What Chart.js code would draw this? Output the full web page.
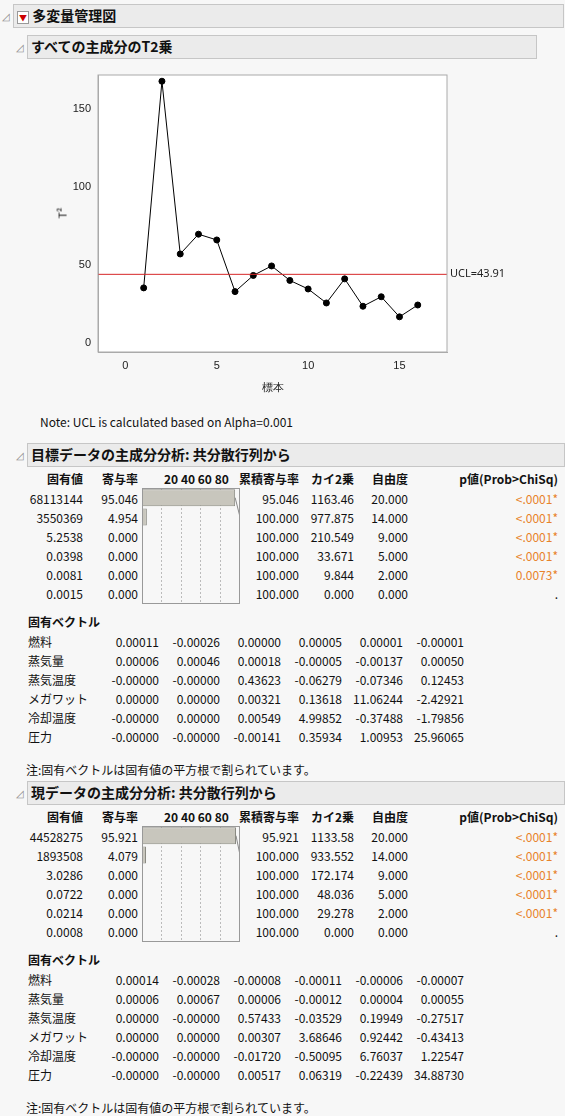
<!DOCTYPE html>
<html><head><meta charset="utf-8">
<script src="https://cdn.jsdelivr.net/npm/chart.js@4"></script>
<style>
body{margin:0;background:#f7f7f7;font-family:"Noto Sans CJK JP","Noto Sans",sans-serif;font-size:12px;color:#111;width:565px;height:1116px;position:relative;overflow:hidden}
.a{position:absolute;white-space:nowrap}
.hdr{position:absolute;background:#ebebeb;border:1px solid #c6c6c6;font-weight:bold;font-size:14px;line-height:22px;padding-left:3px}
.tri{position:absolute;color:#888;font-size:10px}
.r{text-align:right}
canvas{display:block}
</style></head><body>
<script>
const samples = [1,2,3,4,5,6,7,8,9,10,11,12,13,14,15,16];
const t2 = [35.2,168,57,69.7,66,32.8,43.2,49.3,40,34.5,25.5,41,23.4,29.5,16.6,24.2];
const ucl = 43.91;

const pcaHeaders = ['固有値','寄与率','累積寄与率','カイ2乗','自由度','p値(Prob>ChiSq)'];
const vars = ['燃料','蒸気量','蒸気温度','メガワット','冷却温度','圧力'];

const eig1 = ['68113144','3550369','5.2538','0.0398','0.0081','0.0015'];
const pct1 = [95.046,4.954,0,0,0,0];
const cum1 = [95.046,100,100,100,100,100];
const chi1 = ['1163.46','977.875','210.549','33.671','9.844','0.000'];
const df1 = ['20.000','14.000','9.000','5.000','2.000','0.000'];
const p1 = ['<.0001*','<.0001*','<.0001*','<.0001*','0.0073*','.'];
const vec1 = [
 ['0.00011','-0.00026','0.00000','0.00005','0.00001','-0.00001'],
 ['0.00006','0.00046','0.00018','-0.00005','-0.00137','0.00050'],
 ['-0.00000','-0.00000','0.43623','-0.06279','-0.07346','0.12453'],
 ['0.00000','0.00000','0.00321','0.13618','11.06244','-2.42921'],
 ['-0.00000','0.00000','0.00549','4.99852','-0.37488','-1.79856'],
 ['-0.00000','-0.00000','-0.00141','0.35934','1.00953','25.96065']];

const eig2 = ['44528275','1893508','3.0286','0.0722','0.0214','0.0008'];
const pct2 = [95.921,4.079,0,0,0,0];
const cum2 = [95.921,100,100,100,100,100];
const chi2 = ['1133.58','933.552','172.174','48.036','29.278','0.000'];
const df2 = ['20.000','14.000','9.000','5.000','2.000','0.000'];
const p2 = ['<.0001*','<.0001*','<.0001*','<.0001*','<.0001*','.'];
const vec2 = [
 ['0.00014','-0.00028','-0.00008','-0.00011','-0.00006','-0.00007'],
 ['0.00006','0.00067','0.00006','-0.00012','0.00004','0.00055'],
 ['0.00000','-0.00000','0.57433','-0.03529','0.19949','-0.27517'],
 ['0.00000','0.00000','0.00307','3.68646','0.92442','-0.43413'],
 ['-0.00000','-0.00000','-0.01720','-0.50095','6.76037','1.22547'],
 ['-0.00000','-0.00000','0.00517','0.06319','-0.22439','34.88730']];

function el(html, x, y, cls, style){
  const d=document.createElement('div'); d.className=cls||'a'; d.innerHTML=html;
  d.style.left=x+'px'; d.style.top=y+'px'; if(style) d.style.cssText+=style;
  document.body.appendChild(d); return d;
}
function rt(txt,right,y,style){ // right-aligned text
  return el(txt,right-200,y,'a r','width:200px;'+(style||''));
}

// headers
el('','13','4','hdr','width:546px;height:22px');
el('<span style="color:#c00;border:1px solid #999;background:#fff;font-size:8px;padding:0 1px">▼</span> 多変量管理図',14,4,'hdr','width:520px;height:22px;border:none;background:transparent');
el('◿',2,8,'tri');
el('','27','35','hdr','width:505px;height:22px');
el('すべての主成分のT2乗',28,35,'hdr','width:500px;border:none;background:transparent');
el('◿',16,39,'tri');

// T2 chart
const cv=document.createElement('canvas'); cv.width=480; cv.height=330;
const wrap=el('',40,65,'a','width:480px;height:330px'); wrap.appendChild(cv);
el('T²',56,205,'a','transform:rotate(-90deg);font-size:11px');
el('Note: UCL is calculated based on Alpha=0.001',40,413,'a');

new Chart(cv,{type:'line',
 data:{datasets:[{data:samples.map((s,i)=>({x:s,y:t2[i]})),borderColor:'#000',borderWidth:1,
   pointRadius:3,pointBackgroundColor:'#000',pointBorderColor:'#000',tension:0}]},
 options:{responsive:false,animation:false,
  layout:{padding:{top:10,right:73}},
  plugins:{legend:{display:false},tooltip:{enabled:false}},
  scales:{
   x:{type:'linear',min:-1.5,max:17.6,
      afterBuildTicks:s=>{s.ticks=[0,2.5,5,7.5,10,12.5,15,17.5].map(v=>({value:v}))},
      ticks:{color:'#222',font:{size:11},autoSkip:false,maxRotation:0,callback:v=>v%5===0?v:''},
      grid:{display:false,drawTicks:true,tickLength:4,tickColor:'#888'},
      border:{color:'#aaa'},
      title:{display:true,text:'標本',color:'#222',font:{size:11},padding:0},
      afterFit:s=>{s.height=43}},
   y:{min:-6,max:172,
      afterBuildTicks:s=>{s.ticks=[0,25,50,75,100,125,150].map(v=>({value:v}))},
      ticks:{color:'#222',font:{size:11},autoSkip:false,callback:v=>v%50===0?v:''},
      grid:{display:false,drawTicks:true,tickLength:4,tickColor:'#888'},
      border:{color:'#aaa'},
      afterFit:s=>{s.width=58}}
  }},
 plugins:[{id:'ucl',beforeDraw(c){const a=c.chartArea,x=c.ctx;x.fillStyle='#fff';x.fillRect(a.left,a.top,a.width,a.height);},
  afterDatasetsDraw(c){const a=c.chartArea,x=c.ctx,y=c.scales.y.getPixelForValue(ucl);
   x.save();x.strokeStyle='#d62728';x.lineWidth=1;x.beginPath();x.moveTo(a.left,y);x.lineTo(a.right,y);x.stroke();
   x.strokeStyle='#aaa';x.strokeRect(a.left,a.top,a.width,a.height);
   x.fillStyle='#222';x.font='11px "Noto Sans"';x.textBaseline='middle';x.fillText('UCL='+ucl.toFixed(2),a.right+3,y);x.restore();}}]
});

function section(top,title,eig,pct,cum,chi,df,p,vec){
  el('',27,top,'hdr','width:533px;height:22px');
  el(title,28,top,'hdr','width:530px;border:none;background:transparent');
  el('◿',16,top+4,'tri');
  const hy=top+27, ry=top+47, dy=19;
  const rights=[83,138,299,354,408,558];
  const hs='font-weight:bold';
  rt(pcaHeaders[0],rights[0],hy,hs); rt(pcaHeaders[1],rights[1],hy,hs);
  el('20 40 60 80',164,hy,'a',hs);
  rt(pcaHeaders[2],rights[2],hy,hs); rt(pcaHeaders[3],rights[3],hy,hs);
  rt(pcaHeaders[4],rights[4],hy,hs); rt(pcaHeaders[5],rights[5],hy,hs);
  for(let i=0;i<6;i++){
    const y=ry+i*dy;
    rt(eig[i],rights[0],y); rt(pct[i].toFixed(3),rights[1],y);
    rt(cum[i].toFixed(3),rights[2],y); rt(chi[i],rights[3],y); rt(df[i],rights[4],y);
    rt(p[i],rights[5],y,p[i]==='.'?'':'color:#e8822a');
  }
  // mini bar chart
  const w=el('',142,ry-2,'a','width:98px;height:116px'); const c=document.createElement('canvas'); c.width=98; c.height=116; w.appendChild(c);
  new Chart(c,{type:'bar',data:{labels:eig,datasets:[
     {data:pct,backgroundColor:'#c8c6bd',borderColor:'#8a8a82',borderWidth:1,barPercentage:1,categoryPercentage:0.88},
     {type:'line',data:cum,borderColor:'#888',borderWidth:1,pointRadius:0,tension:0}]},
   options:{indexAxis:'y',responsive:false,animation:false,
    plugins:{legend:{display:false},tooltip:{enabled:false}},layout:{padding:0},
    scales:{x:{min:0,max:100,display:true,ticks:{display:false,stepSize:20},
        grid:{color:'#bbb',drawTicks:false,lineWidth:c=>[0,100].includes(c.tick.value)?0:1},border:{display:false,dash:[2,2]}},
      y:{display:false}}},
   plugins:[{id:'frame',afterDraw(ch){const a=ch.chartArea,x=ch.ctx;x.save();x.strokeStyle='#999';x.strokeRect(a.left+0.5,a.top+0.5,a.width-1,a.height-1);x.restore();}}]});
  const vy=top+170;
  el('固有ベクトル',28,vy,'a','font-weight:bold');
  const vr=[159,220,281,342,403,464];
  for(let i=0;i<6;i++){
    const y=vy+20+i*dy;
    el(vars[i],28,y);
    for(let j=0;j<6;j++) rt(vec[i][j],vr[j],y);
  }
  el('注:固有ベクトルは固有値の平方根で割られています。',26,vy+148);
}
section(443,'目標データの主成分分析: 共分散行列から',eig1,pct1,cum1,chi1,df1,p1,vec1);
section(781,'現データの主成分分析: 共分散行列から',eig2,pct2,cum2,chi2,df2,p2,vec2);
</script>
</body></html>
